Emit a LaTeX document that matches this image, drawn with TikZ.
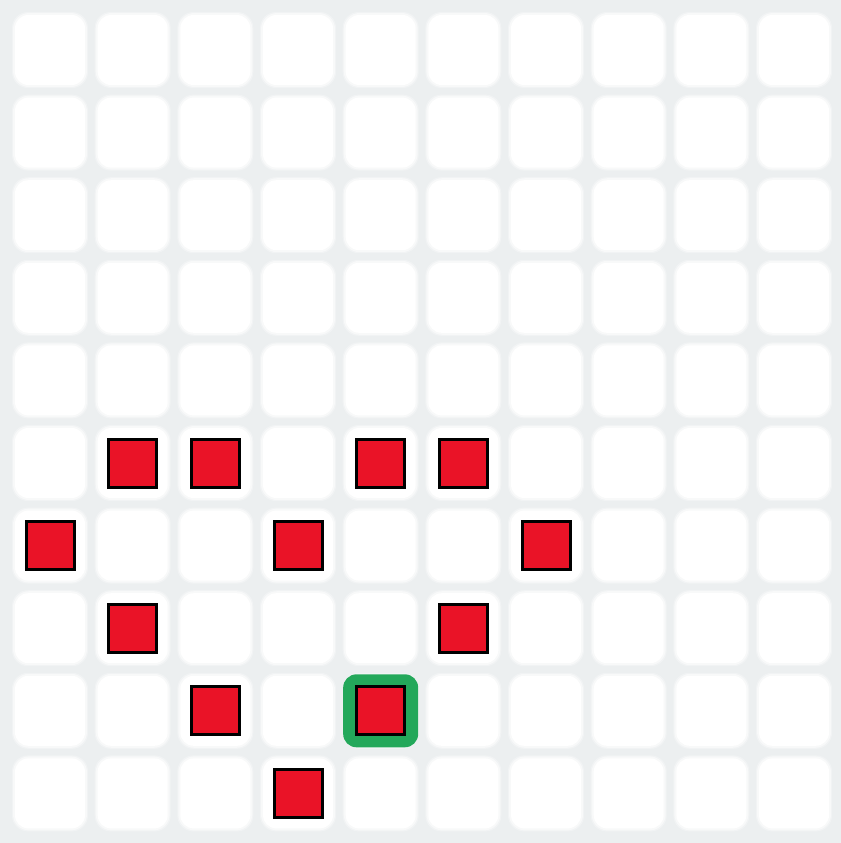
\documentclass[tikz,border=0pt]{standalone}
\usetikzlibrary{calc}
\definecolor{bg}{RGB}{236,239,240}
\definecolor{redc}{RGB}{234,19,39}
\definecolor{greenc}{RGB}{35,168,90}
\tikzset{
  cellhalo/.style={fill=white,draw=none,rounded corners=12},
  cellbox/.style={fill=white,draw=none,rounded corners=10},
  piece/.style={fill=redc,draw=black,line width=2.25pt},
  highlightbox/.style={fill=greenc,draw=none,rounded corners=10}
}
\begin{document}
\begin{tikzpicture}[x=0.75pt,y=-0.75pt]
\useasboundingbox (0,0) rectangle (841,843);
\fill[bg] (0,0) rectangle (841,843);
\foreach \c in {0,...,9}{
  \foreach \r in {0,...,9}{
    \pgfmathsetmacro{\cx}{50+\c*82.67}
    \pgfmathsetmacro{\cy}{50+\r*82.6}
    \fill[cellhalo,opacity=0.3] (\cx-38,\cy-38) rectangle (\cx+38,\cy+38);
    \fill[cellhalo,opacity=0.5] (\cx-37,\cy-37) rectangle (\cx+37,\cy+37);
    \fill[cellbox] (\cx-35,\cy-35) rectangle (\cx+35,\cy+35);
  }
}
% green highlight at col 4 row 8
\pgfmathsetmacro{\gx}{50+4*82.67}
\pgfmathsetmacro{\gy}{50+8*82.6}
\fill[highlightbox] (\gx-37.5,\gy-36.5) rectangle (\gx+37.5,\gy+36.5);
\foreach \c/\r in {1/5,2/5,4/5,5/5,0/6,3/6,6/6,1/7,5/7,2/8,4/8,3/9}{
  \pgfmathsetmacro{\cx}{50+\c*82.67}
  \pgfmathsetmacro{\cy}{50+\r*82.6}
  \draw[piece] (\cx-24,\cy-24) rectangle (\cx+24,\cy+24);
}
\end{tikzpicture}
\end{document}
